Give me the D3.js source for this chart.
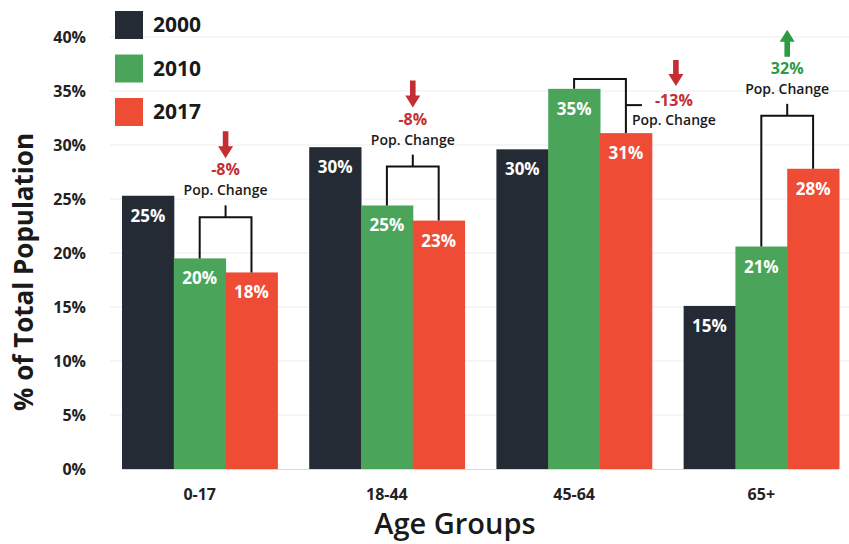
<!DOCTYPE html>
<html><head><meta charset="utf-8">
<script src="https://cdn.jsdelivr.net/npm/d3@7"></script>
<style>body{margin:0;background:#fff;} text{font-family:"Open Sans",sans-serif;}</style>
</head><body><svg id="c" width="849" height="544"></svg>
<script>
const categories = ["0-17","18-44","45-64","65+"];
const years = ["2000","2010","2017"];
const v2000 = [25.3, 29.8, 29.6, 15.1];
const v2010 = [19.5, 24.4, 35.2, 20.6];
const v2017 = [18.2, 23.0, 31.1, 27.8];
const barLabels2000 = ["25%","30%","30%","15%"];
const barLabels2010 = ["20%","25%","35%","21%"];
const barLabels2017 = ["18%","23%","31%","28%"];
const changeLabels = ["-8%","-8%","-13%","32%"];
const changeDir = ["down","down","down","up"];
const bracketLevel = [23.3, 28.0, 36.1, 32.7];
const yTicks = [0,5,10,15,20,25,30,35,40];
const colors = ["#252b35","#4aa55a","#ee4c35"];

const series = [v2000, v2010, v2017];
const seriesLabels = [barLabels2000, barLabels2010, barLabels2017];
const svg = d3.select("#c");
const y = d3.scaleLinear().domain([0,40]).range([469,37]);
const x0 = d3.scaleBand().domain(categories).range([122,839]).paddingInner(0.17).paddingOuter(0);
const x1 = d3.scaleBand().domain(years).range([0,x0.bandwidth()]).padding(0);

// gridlines
svg.append("g").selectAll("line").data(yTicks.filter(t=>t>0)).join("line")
  .attr("x1",110).attr("x2",849).attr("y1",d=>y(d)).attr("y2",d=>y(d))
  .attr("stroke","#ececec").attr("stroke-width",1);

// y axis labels
const yAxis = d3.axisLeft(y).tickValues(yTicks).tickFormat(d=>d+"%").tickSize(0).tickPadding(0);
const ya = svg.append("g").attr("transform","translate(86,0)").call(yAxis);
ya.select(".domain").remove();
ya.selectAll("text").attr("font-size",16).attr("font-weight","bold").attr("fill","#222").attr("font-family","Open Sans");

// bars
const groups = svg.append("g").selectAll("g").data(categories).join("g")
  .attr("transform",d=>`translate(${x0(d)},0)`);
groups.each(function(cat,i){
  const g = d3.select(this);
  years.forEach((yr,j)=>{
    const val = series[j][i];
    g.append("rect").attr("x",x1(yr)).attr("width",x1.bandwidth()+0.5)
      .attr("y",y(val)).attr("height",y(0)-y(val)).attr("fill",colors[j]);
    g.append("text").attr("x",x1(yr)+x1.bandwidth()/2).attr("y",y(val)+26)
      .attr("text-anchor","middle").attr("font-size",17).attr("font-weight","bold")
      .attr("fill","#fff").text(seriesLabels[j][i]);
  });
});

// baseline
svg.append("line").attr("x1",122).attr("x2",839).attr("y1",y(0)+0.5).attr("y2",y(0)+0.5).attr("stroke","#d8d8d8");

// x axis
const xAxis = d3.axisBottom(x0).tickSize(0).tickPadding(0);
const xa = svg.append("g").attr("transform","translate(0,489)").call(xAxis);
xa.select(".domain").remove();
xa.selectAll("text").attr("font-size",16).attr("font-weight","bold").attr("fill","#222").attr("font-family","Open Sans");

// axis titles
svg.append("text").attr("x",455).attr("y",534).attr("text-anchor","middle")
  .attr("font-size",29).attr("font-weight",600).attr("fill","#1a1a1a").text("Age Groups");
svg.append("text").attr("transform","translate(33,272) rotate(-90)").attr("text-anchor","middle")
  .attr("font-size",26).attr("font-weight","bold").attr("fill","#1a1a1a").text("% of Total Population");

// legend
const leg = svg.append("g");
years.forEach((yr,j)=>{
  const ly = 11 + j*43.5;
  leg.append("rect").attr("x",115).attr("y",ly).attr("width",28).attr("height",28).attr("fill",colors[j]);
  leg.append("text").attr("x",153).attr("y",ly+21).attr("font-size",21).attr("font-weight","bold").attr("fill","#1a1a1a").text(yr);
});

// annotations
function arrow(g, cx, top, bottom, dir, color){
  const hw=7.5, hh=12, sw=2.8;
  let p;
  if(dir==="down"){
    p = `M${cx-sw},${top} L${cx+sw},${top} L${cx+sw},${bottom-hh} L${cx+hw},${bottom-hh} L${cx},${bottom} L${cx-hw},${bottom-hh} L${cx-sw},${bottom-hh} Z`;
  } else {
    p = `M${cx-sw},${bottom} L${cx+sw},${bottom} L${cx+sw},${top+hh} L${cx+hw},${top+hh} L${cx},${top} L${cx-hw},${top+hh} L${cx-sw},${top+hh} Z`;
  }
  g.append("path").attr("d",p).attr("fill",color);
}
const ann = svg.append("g");
categories.forEach((cat,i)=>{
  const gx = x0(cat)+x1("2010")+x1.bandwidth()/2;
  const rx = x0(cat)+x1("2017")+x1.bandwidth()/2;
  const by = y(bracketLevel[i]);
  const col = changeDir[i]==="up" ? "#2e9a44" : "#c62d33";
  const bg = ann.append("g").attr("fill","none").attr("stroke","#111").attr("stroke-width",2);
  bg.append("path").attr("d",`M${gx},${y(series[1][i])} L${gx},${by} L${rx},${by} L${rx},${y(series[2][i])}`);
  if(i===2){
    const my = by + 26;
    bg.append("line").attr("x1",rx).attr("x2",rx+16).attr("y1",my).attr("y2",my);
    const tx = rx+48;
    ann.append("text").attr("x",tx).attr("y",my+1).attr("text-anchor","middle").attr("font-size",16).attr("font-weight","bold").attr("fill",col).text(changeLabels[i]);
    ann.append("text").attr("x",tx).attr("y",my+20).attr("text-anchor","middle").attr("font-size",14).attr("font-weight",600).attr("fill","#1a1a1a").text("Pop. Change");
    arrow(ann, tx+2, by-19, by+7, changeDir[i], col);
  } else {
    const cx = (gx+rx)/2;
    bg.append("line").attr("x1",cx).attr("x2",cx).attr("y1",by).attr("y2",by-12);
    ann.append("text").attr("x",cx).attr("y",by-22).attr("text-anchor","middle").attr("font-size",14).attr("font-weight",600).attr("fill","#1a1a1a").text("Pop. Change");
    ann.append("text").attr("x",cx).attr("y",by-42).attr("text-anchor","middle").attr("font-size",16).attr("font-weight","bold").attr("fill",col).text(changeLabels[i]);
    arrow(ann, cx, by-86, by-59, changeDir[i], col);
  }
});
</script></body></html>
